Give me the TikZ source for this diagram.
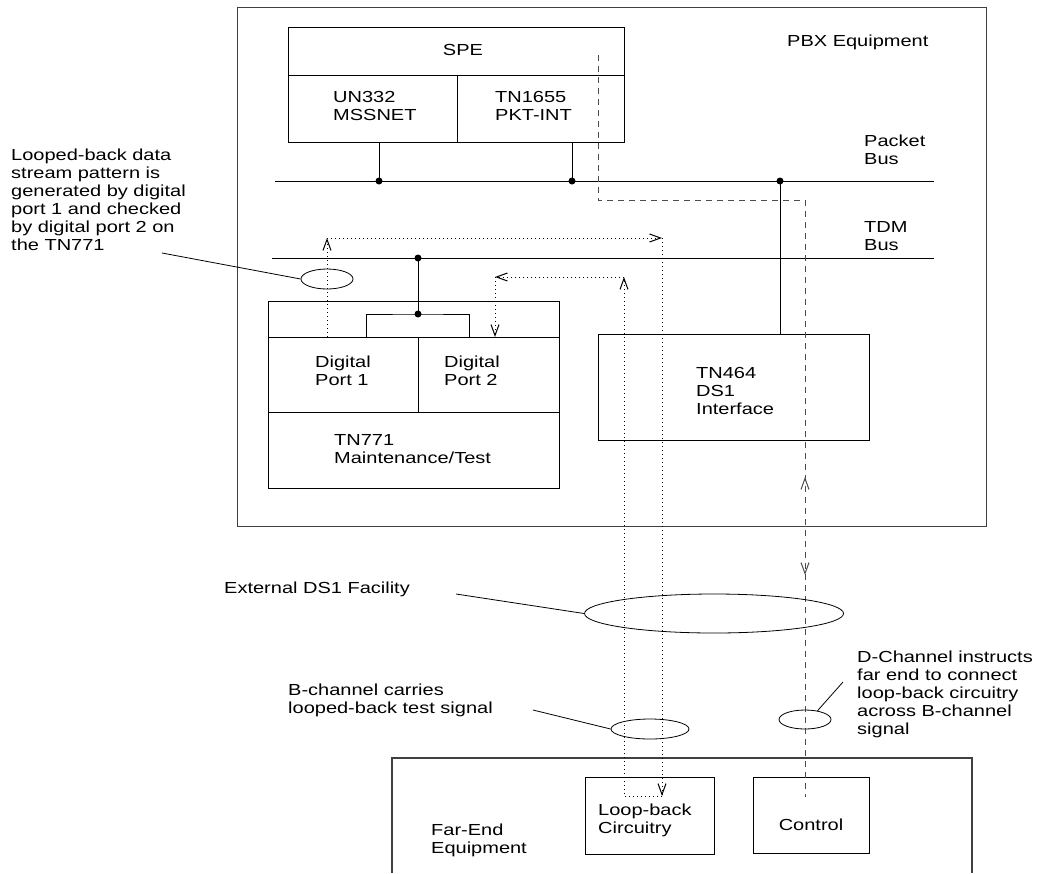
\documentclass[tikz,border=0pt]{standalone}
\usepackage{fontspec}
\setmainfont{Liberation Sans}[FakeStretch=1.25]
\usetikzlibrary{arrows.meta,shapes.geometric,decorations.markings}
\begin{document}
\begin{tikzpicture}[x=1pt,y=-1pt,
  ln/.style={line width=0.9pt},
  box/.style={draw, line width=0.9pt, inner sep=0, anchor=north west},
  outer/.style={draw=black!75, line width=1.1pt, inner sep=0, anchor=north west},
  lbl/.style={font=\fontsize{16}{18}\selectfont, inner sep=0, align=left, anchor=base west},
  oval/.style={draw, ellipse, line width=0.8pt, inner sep=0},
  dotln/.style={line width=1pt, dash pattern=on 1pt off 3pt},
  dashln/.style={line width=1pt, draw=black!70, dash pattern=on 6pt off 5pt},
  barb/.style={-{Straight Barb[length=11pt,width=8pt]}},
  jdot/.style={circle, fill, inner sep=0, minimum size=7pt}
]
\useasboundingbox (0,0) rectangle (1040,873);

% PBX outer box
\node[outer, minimum width=749pt, minimum height=519pt] (pbx) at (237,7) {};
\node[lbl] (tpbx) at (787,46) {PBX Equipment};

% SPE
\node[box, minimum width=336pt, minimum height=48pt] (spe) at (288,27) {};
\node[box, minimum width=169pt, minimum height=67pt] (un) at (288,75) {};
\node[box, minimum width=167pt, minimum height=67pt] (tnp) at (457,75) {};
\node[lbl, anchor=base] (tspe) at (463,55) {SPE};
\node[lbl] (tun) at (333,120) {UN332\\MSSNET};
\node[lbl] (ttnp) at (495,120) {TN1655\\PKT-INT};

% Buses
\coordinate (pb1) at (275,181); \coordinate (pb2) at (934,181);
\coordinate (td1) at (272,258); \coordinate (td2) at (934,258);
\draw[ln] (pb1) -- (pb2);
\draw[ln] (td1) -- (td2);
\node[lbl] (tpb) at (864,164) {Packet\\Bus};
\node[lbl] (ttdm) at (864,250) {TDM\\Bus};

\node[jdot] (d1) at (379,181) {};
\node[jdot] (d2) at (572,181) {};
\node[jdot] (d3) at (780,181) {};
\node[jdot] (d4) at (418,258) {};
\node[jdot] (d5) at (418,314) {};

% TN771
\node[box, minimum width=291pt, minimum height=187pt] (tn771) at (268,301) {};
\node[box, minimum width=150pt, minimum height=75pt] (dp1) at (268,337) {};
\node[box, minimum width=141pt, minimum height=75pt] (dp2) at (418,337) {};
\node[lbl] (tdp1) at (315,385) {Digital\\Port 1};
\node[lbl] (tdp2) at (444,385) {Digital\\Port 2};
\node[lbl] (t771) at (334,463) {TN771\\Maintenance/Test};

% TN464
\node[box, minimum width=271pt, minimum height=106pt] (tn464) at (598,334) {};
\node[lbl] (t464) at (696,414) {TN464\\DS1\\Interface};

% connections to buses
\draw[ln] (d1 |- un.south) -- (d1.center);
\draw[ln] (d2 |- tnp.south) -- (d2.center);
\draw[ln] (d3.center) -- (d3 |- tn464.north);
\draw[ln] (d4.center) -- (d5.center);
\coordinate (brL) at (366,337); \coordinate (brR) at (469,337);
\draw[ln] (brL) |- (d5.center) -| (brR);

% Far end
\coordinate (f1) at (392,873); \coordinate (f2) at (392,758);
\coordinate (f3) at (972,758); \coordinate (f4) at (972,873);
\draw[draw=black!75, line width=1.1pt] (f1) -- (f2) -- (f3) -- (f4);
\node[lbl] (tfar) at (431,853) {Far-End\\Equipment};
\node[box, minimum width=129pt, minimum height=77pt] (lb) at (585,777) {};
\node[lbl] (tlb) at (598,833) {Loop-back\\Circuitry};
\node[box, minimum width=116pt, minimum height=76pt] (ctl) at (753,777) {};
\node[lbl, anchor=base] (tctl) at (811,830) {Control};

% Dotted loop path
\coordinate (p1) at (327,337); \coordinate (p2) at (327,238);
\coordinate (p3) at (662,238); \coordinate (p4) at (662,796);
\coordinate (p5) at (624,796); \coordinate (p6) at (624,277);
\coordinate (p7) at (495,277); \coordinate (p8) at (495,337);
\draw[dotln, barb] (p1) -- (p2);
\draw[dotln, barb] (p2) -- (p3);
\draw[dotln, barb] (p3) -- (p4);
\draw[dotln, barb] (p4) -- (p5) -- (p6);
\draw[dotln, barb] (p6) -- (p7);
\draw[dotln, barb] (p7) -- (p8);

% Dashed control path
\coordinate (c1) at (598,55); \coordinate (c2) at (598,200);
\coordinate (c3) at (805,200); \coordinate (c4) at (805,797);
\draw[dashln, decoration={markings,
   mark=at position 629pt with {\arrowreversed[black!70, line width=1pt]{Straight Barb[length=11pt,width=8pt]}},
   mark=at position 727pt with {\arrow[black!70, line width=1pt]{Straight Barb[length=11pt,width=8pt]}}},
   postaction={decorate}] (c1) -- (c2) -- (c3) -- (c4);

% Annotation ovals and leaders
\node[oval, minimum width=52pt, minimum height=20pt] (e1) at (327,279) {};
\node[oval, minimum width=259pt, minimum height=39pt] (e2) at (714,613.5) {};
\node[oval, minimum width=78pt, minimum height=20pt] (e3) at (650,729) {};
\node[oval, minimum width=52pt, minimum height=19pt] (e4) at (805,719.5) {};
\coordinate (l1) at (162,253);
\coordinate (l2) at (456,594);
\coordinate (l3) at (533,710);
\coordinate (l4) at (843,682);
\draw[line width=0.8pt] (l1) -- (e1.west);
\draw[line width=0.8pt] (l2) -- (e2.west);
\draw[line width=0.8pt] (l3) -- (e3.west);
\draw[line width=0.8pt] (l4) -- (e4.35);

\node[lbl] (tloop) at (11,250) {Looped-back data\\stream pattern is\\generated by digital\\port 1 and checked\\by digital port 2 on\\the TN771};
\node[lbl] (text) at (224,593) {External DS1 Facility};
\node[lbl] (tb) at (288,713) {B-channel carries\\looped-back test signal};
\node[lbl] (td) at (857,734) {D-Channel instructs\\far end to connect\\loop-back circuitry\\across B-channel\\signal};
\end{tikzpicture}
\end{document}
